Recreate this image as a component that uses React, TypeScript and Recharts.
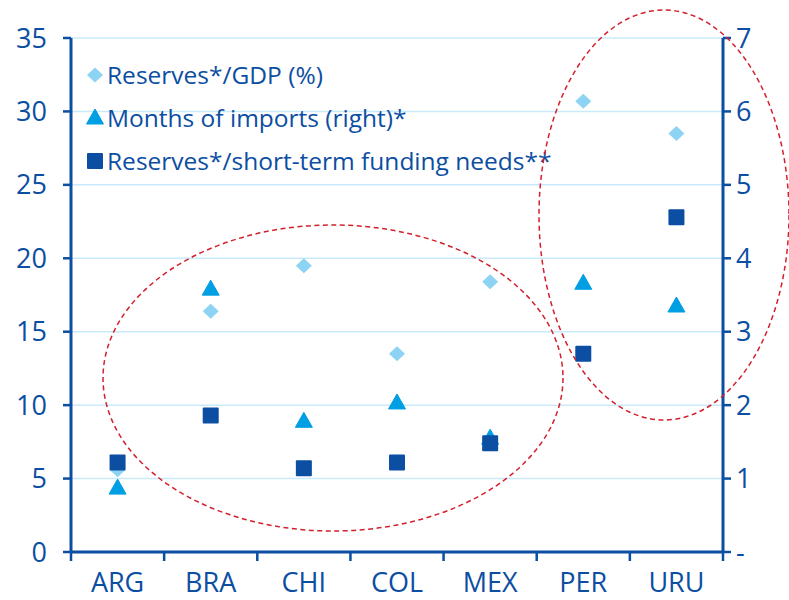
import { ScatterChart, Scatter, XAxis, YAxis, CartesianGrid } from "recharts"

const countries = ["ARG", "BRA", "CHI", "COL", "MEX", "PER", "URU"]
const reservesGdp = [5.6, 16.4, 19.5, 13.5, 18.4, 30.7, 28.5]
const importMonths = [0.87, 3.58, 1.78, 2.03, 1.55, 3.66, 3.35]
const reservesFunding = [6.1, 9.3, 5.7, 6.1, 7.4, 13.5, 22.8]
const leftTicks = [0, 5, 10, 15, 20, 25, 30, 35]
const rightTicks = [0, 1, 2, 3, 4, 5, 6, 7]
const categoryBounds = countries.map((_, i) => i).concat(countries.length)

const DARK = "#0b4ea2"
const MID = "#009fe3"
const LIGHT = "#8dd3f3"
const GRID = "#c9eaf9"
const FONT = "'Open Sans', 'Noto Sans', sans-serif"

const LEFT_W = 71
const RIGHT_W = 66
const CHART_W = 789
const BAND = (CHART_W - LEFT_W - RIGHT_W) / countries.length

const toPoints = (values: number[]) => values.map((v, i) => ({ x: i + 0.5, y: v }))

const Diamond = ({ cx, cy, fill }: any) => (
  <path d={`M${cx},${cy - 7.5} L${cx + 8},${cy} L${cx},${cy + 7.5} L${cx - 8},${cy} Z`} fill={fill} />
)
const Triangle = ({ cx, cy, fill }: any) => (
  <path d={`M${cx},${cy - 9} L${cx + 8.5},${cy + 6} L${cx - 8.5},${cy + 6} Z`} fill={fill} stroke={fill} strokeLinejoin="round" strokeWidth={1} />
)
const Square = ({ cx, cy, fill }: any) => (
  <rect x={cx - 8} y={cy - 8} width={16} height={16} rx={1} fill={fill} />
)

// tick marks sit on the category boundaries, the names in the middle of each band
const CountryTick = ({ x, y, payload }: any) => {
  const name = countries[payload.value]
  if (!name) return null
  return (
    <text x={x + BAND / 2} y={y} dy="0.71em" textAnchor="middle" fill={DARK} fontSize={27} fontFamily={FONT}>
      {name}
    </text>
  )
}

const legendItems = [
  { label: "Reserves*/GDP (%)", color: LIGHT, Shape: Diamond },
  { label: "Months of imports (right)*", color: MID, Shape: Triangle },
  { label: "Reserves*/short-term funding needs**", color: DARK, Shape: Square },
]

const LegendBox = () => (
  <div style={{ position: "absolute", left: 84, top: 53, fontFamily: FONT, fontSize: 24.5, color: DARK }}>
    {legendItems.map(({ label, color, Shape }) => (
      <div key={label} style={{ display: "flex", alignItems: "center", height: 43 }}>
        <svg width={22} height={20} style={{ marginRight: 1 }}>
          <Shape cx={11} cy={10} fill={color} />
        </svg>
        <span>{label}</span>
      </div>
    ))}
  </div>
)

const tickStyle = { fill: DARK, fontSize: 27, fontFamily: FONT }

export default function App() {
  return (
    <div style={{ position: "absolute", left: 0, top: 0, width: CHART_W, height: 600, background: "#fff" }}>
      <ScatterChart width={CHART_W} height={600} margin={{ top: 38, right: 0, bottom: 0, left: 0 }}>
        <CartesianGrid yAxisId="left" vertical={false} stroke={GRID} strokeWidth={1.5} />
        <XAxis
          type="number"
          dataKey="x"
          domain={[0, countries.length]}
          ticks={categoryBounds}
          tick={<CountryTick />}
          axisLine={{ stroke: DARK, strokeWidth: 3 }}
          tickLine={{ stroke: DARK, strokeWidth: 2.5 }}
          tickSize={9}
          tickMargin={12}
          height={48}
        />
        <YAxis
          yAxisId="left"
          type="number"
          dataKey="y"
          domain={[0, 35]}
          ticks={leftTicks}
          width={LEFT_W}
          axisLine={{ stroke: DARK, strokeWidth: 3 }}
          tickLine={{ stroke: DARK, strokeWidth: 2.5 }}
          tickSize={8}
          tickMargin={16}
          tick={tickStyle}
        />
        <YAxis
          yAxisId="right"
          type="number"
          dataKey="y"
          orientation="right"
          domain={[0, 7]}
          ticks={rightTicks}
          tickFormatter={(v: number) => (v === 0 ? "-" : String(v))}
          width={RIGHT_W}
          axisLine={{ stroke: DARK, strokeWidth: 3 }}
          tickLine={{ stroke: DARK, strokeWidth: 2.5 }}
          tickSize={8}
          tickMargin={5}
          tick={tickStyle}
        />
        <Scatter
          name="Reserves*/GDP (%)"
          data={toPoints(reservesGdp)}
          yAxisId="left"
          fill={LIGHT}
          shape={Diamond}
          isAnimationActive={false}
        />
        <Scatter
          name="Months of imports (right)*"
          data={toPoints(importMonths)}
          yAxisId="right"
          fill={MID}
          shape={Triangle}
          isAnimationActive={false}
        />
        <Scatter
          name="Reserves*/short-term funding needs**"
          data={toPoints(reservesFunding)}
          yAxisId="left"
          fill={DARK}
          shape={Square}
          isAnimationActive={false}
        />
      </ScatterChart>
      <LegendBox />
      {/* highlight rings around the two country groups */}
      <svg width={CHART_W} height={600} style={{ position: "absolute", left: 0, top: 0, pointerEvents: "none" }}>
        <ellipse cx={333} cy={378} rx={230} ry={153} fill="none" stroke="#d3202d" strokeWidth={1.5} strokeDasharray="5 3.5" />
        <ellipse cx={664} cy={215} rx={125} ry={205} fill="none" stroke="#d3202d" strokeWidth={1.5} strokeDasharray="5 3.5" />
      </svg>
    </div>
  )
}
